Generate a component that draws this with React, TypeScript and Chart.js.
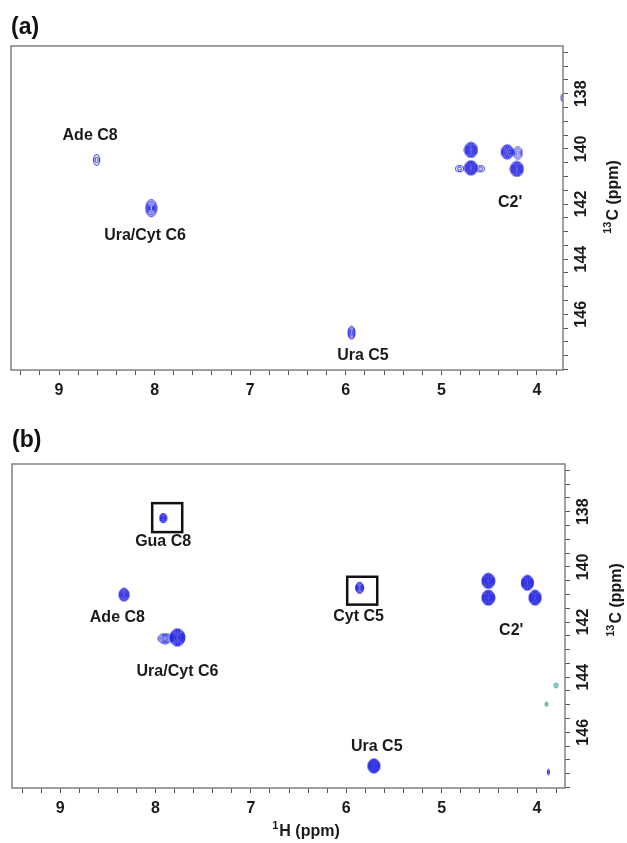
import React, { useEffect, useRef } from 'react';
import { Chart, registerables } from 'chart.js';

Chart.register(...registerables);

const FONT = '"Liberation Sans", Arial, Helvetica, sans-serif';
const BLUE = '#1c1ce0';
const TEAL = '#3aa39a';
const INK = '#1a1a1a';

// ---- axis tick labels ----
const hTickLabels = [9, 8, 7, 6, 5, 4];
const cTickLabels = [138, 140, 142, 144, 146];

// ---- panel (a) peaks: 1H ppm, 13C ppm, linewidths (ppm), contour levels ----
const peaksA_H = [8.607, 8.036, 5.94, 4.69, 4.69, 4.81, 4.59, 4.31, 4.2, 4.21, 3.735];
const peaksA_C = [140.4, 142.15, 146.67, 140.04, 140.69, 140.72, 140.72, 140.11, 140.15, 140.73, 138.15];
const peaksA_wH = [0.063, 0.115, 0.073, 0.136, 0.136, 0.084, 0.084, 0.126, 0.094, 0.136, 0.02];
const peaksA_wC = [0.4, 0.62, 0.47, 0.54, 0.51, 0.22, 0.22, 0.51, 0.44, 0.54, 0.25];
const peaksA_lev = [2, 5, 4, 8, 8, 2, 2, 7, 3, 8, 1];

const labelsA_text = ['Ade C8', 'Ura/Cyt C6', 'Ura C5', "C2'"];
const labelsA_H = [8.675, 8.1, 5.82, 4.28];
const labelsA_C = [139.53, 143.13, 147.49, 141.96];

// ---- panel (b) peaks ----
const peaksB_H = [7.92, 8.33, 7.77, 7.9, 5.86, 4.51, 4.51, 4.1, 4.02, 5.71, 3.88];
const peaksB_C = [138.23, 141.01, 142.56, 142.6, 140.76, 140.51, 141.12, 140.58, 141.12, 147.22, 147.44];
const peaksB_wH = [0.073, 0.105, 0.157, 0.147, 0.084, 0.136, 0.136, 0.126, 0.126, 0.126, 0.021];
const peaksB_wC = [0.33, 0.47, 0.62, 0.36, 0.4, 0.54, 0.54, 0.54, 0.54, 0.51, 0.22];
const peaksB_lev = [5, 7, 10, 4, 5, 10, 10, 10, 10, 10, 2];

const negB_H = [3.8, 3.9];
const negB_C = [144.3, 144.98];
const negB_wH = [0.042, 0.031];
const negB_wC = [0.18, 0.15];
const negB_lev = [2, 2];

const labelsB_text = ['Gua C8', 'Ade C8', 'Ura/Cyt C6', 'Cyt C5', "C2'", 'Ura C5'];
const labelsB_H = [7.92, 8.4, 7.77, 5.87, 4.27, 5.68];
const labelsB_C = [139.1, 141.84, 143.79, 141.81, 142.31, 146.53];

const boxesB_H1 = [8.035, 5.99];
const boxesB_H2 = [7.72, 5.675];
const boxesB_C1 = [137.69, 140.36];
const boxesB_C2 = [138.74, 141.37];

// ---- helpers ----
const glyphCache = new Map<string, HTMLCanvasElement>();
function makeGlyph(w: number, h: number, lev: number, color: string) {
  const key = `${w.toFixed(1)}|${h.toFixed(1)}|${lev}|${color}`;
  const hit = glyphCache.get(key);
  if (hit) return hit;
  const c = document.createElement('canvas');
  const W = Math.ceil(w) + 2;
  const H = Math.ceil(h) + 2;
  c.width = W;
  c.height = H;
  const g = c.getContext('2d')!;
  g.strokeStyle = color;
  g.lineWidth = 1;
  for (let k = lev; k >= 1; k--) {
    const f = k / lev;
    g.beginPath();
    g.ellipse(W / 2, H / 2, Math.max(0.5, (w / 2) * f), Math.max(0.6, (h / 2) * f), 0, 0, Math.PI * 2);
    g.stroke();
  }
  glyphCache.set(key, c);
  return c;
}

function buildPoints(H: number[], C: number[], wH: number[], wC: number[], lev: number[]) {
  return H.map((x, i) => ({ x, y: C[i], wH: wH[i], wC: wC[i], lev: lev[i] }));
}

function glyphStyle(color: string) {
  return (ctx: any) => {
    const raw = ctx.raw;
    if (!raw || !ctx.chart.scales.x) return 'circle';
    const xs = ctx.chart.scales.x;
    const ys = ctx.chart.scales.y;
    const w = Math.abs(xs.getPixelForValue(raw.x + raw.wH / 2) - xs.getPixelForValue(raw.x - raw.wH / 2));
    const h = Math.abs(ys.getPixelForValue(raw.y + raw.wC / 2) - ys.getPixelForValue(raw.y - raw.wC / 2));
    return makeGlyph(w, h, raw.lev, color);
  };
}

function tickLabel(list: number[]) {
  return (v: any) => {
    const n = Number(v);
    const m = list.find((t) => Math.abs(t - n) < 1e-6);
    return m === undefined ? '' : String(m);
  };
}

function drawSup(ctx: CanvasRenderingContext2D, sup: string, main: string, cx: number, cy: number) {
  ctx.font = `bold 11px ${FONT}`;
  const sw = ctx.measureText(sup).width;
  ctx.font = `bold 16px ${FONT}`;
  const mw = ctx.measureText(main).width;
  const start = cx - (sw + mw + 1) / 2;
  ctx.textAlign = 'left';
  ctx.textBaseline = 'alphabetic';
  ctx.fillStyle = INK;
  ctx.font = `bold 11px ${FONT}`;
  ctx.fillText(sup, start, cy - 1);
  ctx.font = `bold 16px ${FONT}`;
  ctx.fillText(main, start + sw + 1, cy + 6);
}

const annotPlugin = {
  id: 'annot',
  afterDatasetsDraw(chart: any, _args: any, opts: any) {
    const { ctx } = chart;
    const x = chart.scales.x;
    const y = chart.scales.y;
    ctx.save();
    ctx.font = `bold 16px ${FONT}`;
    ctx.fillStyle = INK;
    ctx.textAlign = 'center';
    ctx.textBaseline = 'middle';
    (opts.labels || []).forEach((l: any) => {
      ctx.fillText(l.text, x.getPixelForValue(l.h), y.getPixelForValue(l.c));
    });
    ctx.lineWidth = 2.5;
    ctx.strokeStyle = '#111';
    (opts.boxes || []).forEach((b: any) => {
      const x1 = x.getPixelForValue(b.h1);
      const x2 = x.getPixelForValue(b.h2);
      const y1 = y.getPixelForValue(b.c1);
      const y2 = y.getPixelForValue(b.c2);
      ctx.strokeRect(Math.min(x1, x2), Math.min(y1, y2), Math.abs(x2 - x1), Math.abs(y2 - y1));
    });
    ctx.restore();
  },
  afterDraw(chart: any, _args: any, opts: any) {
    const { ctx, chartArea: a } = chart;
    ctx.save();
    ctx.strokeStyle = '#808080';
    ctx.lineWidth = 1.5;
    ctx.strokeRect(a.left, a.top, a.right - a.left, a.bottom - a.top);
    ctx.save();
    ctx.translate(opts.yTitleX, opts.yTitleY);
    ctx.rotate(-Math.PI / 2);
    drawSup(ctx, '13', 'C (ppm)', 0, 0);
    ctx.restore();
    if (opts.xTitle) drawSup(ctx, '1', 'H (ppm)', opts.xTitleX, opts.xTitleY);
    ctx.restore();
  },
};

function makeConfig(p: any): any {
  const datasets: any[] = [
    {
      type: 'scatter',
      data: buildPoints(p.H, p.C, p.wH, p.wC, p.lev),
      pointStyle: glyphStyle(BLUE),
      pointRadius: 4,
      showLine: false,
    },
  ];
  if (p.negH) {
    datasets.push({
      type: 'scatter',
      data: buildPoints(p.negH, p.negC, p.negWH, p.negWC, p.negLev),
      pointStyle: glyphStyle(TEAL),
      pointRadius: 4,
      showLine: false,
    });
  }
  return {
    type: 'scatter',
    data: { datasets },
    plugins: [annotPlugin],
    options: {
      responsive: false,
      maintainAspectRatio: false,
      animation: false,
      events: [],
      layout: { padding: { left: p.left, right: 0, top: 0, bottom: 0 } },
      plugins: {
        legend: { display: false },
        tooltip: { enabled: false },
        title: {
          display: true,
          text: p.title,
          align: 'start',
          color: '#111',
          font: { family: FONT, size: 23, weight: 'bold' },
          padding: { top: p.titleTop, bottom: p.titleBottom },
        },
        annot: {
          labels: p.labels,
          boxes: p.boxes,
          yTitleX: p.yTitleX,
          yTitleY: p.yTitleY,
          xTitle: p.xTitle,
          xTitleX: p.xTitleX,
          xTitleY: p.xTitleY,
        },
      },
      scales: {
        x: {
          type: 'linear',
          position: 'bottom',
          reverse: true,
          min: p.xMin,
          max: p.xMax,
          grid: { drawOnChartArea: false, drawTicks: true, tickLength: 5, color: '#555', lineWidth: 1 },
          border: { display: false },
          ticks: {
            stepSize: 0.2,
            autoSkip: false,
            includeBounds: false,
            minRotation: 0,
            maxRotation: 0,
            padding: 6,
            color: INK,
            font: { family: FONT, size: 16, weight: 'bold' },
            callback: tickLabel(hTickLabels),
          },
          afterFit: (s: any) => {
            s.height = p.xAxisH;
          },
        },
        y: {
          type: 'linear',
          position: 'right',
          reverse: true,
          min: 136.27,
          max: 148.02,
          grid: { drawOnChartArea: false, drawTicks: true, tickLength: 5, color: '#555', lineWidth: 1 },
          border: { display: false },
          ticks: {
            stepSize: 0.5,
            autoSkip: false,
            includeBounds: false,
            minRotation: 90,
            maxRotation: 90,
            crossAlign: 'center',
            padding: 0,
            color: INK,
            font: { family: FONT, size: 16, weight: 'bold' },
            callback: tickLabel(cTickLabels),
          },
          afterFit: (s: any) => {
            s.width = p.yAxisW;
          },
        },
      },
    },
  };
}

const panelA = {
  title: '(a)',
  titleTop: 14,
  titleBottom: 4.4,
  left: 11,
  xMin: 3.727,
  xMax: 9.503,
  xAxisH: 50,
  yAxisW: 64,
  H: peaksA_H,
  C: peaksA_C,
  wH: peaksA_wH,
  wC: peaksA_wC,
  lev: peaksA_lev,
  labels: labelsA_text.map((text, i) => ({ text, h: labelsA_H[i], c: labelsA_C[i] })),
  boxes: [],
  yTitleX: 612,
  yTitleY: 197,
  xTitle: false,
};

const panelB = {
  title: '(b)',
  titleTop: 7,
  titleBottom: 9.4,
  left: 12,
  xMin: 3.706,
  xMax: 9.505,
  xAxisH: 55,
  yAxisW: 62,
  H: peaksB_H,
  C: peaksB_C,
  wH: peaksB_wH,
  wC: peaksB_wC,
  lev: peaksB_lev,
  negH: negB_H,
  negC: negB_C,
  negWH: negB_wH,
  negWC: negB_wC,
  negLev: negB_lev,
  labels: labelsB_text.map((text, i) => ({ text, h: labelsB_H[i], c: labelsB_C[i] })),
  boxes: boxesB_H1.map((h1, i) => ({ h1, h2: boxesB_H2[i], c1: boxesB_C1[i], c2: boxesB_C2[i] })),
  yTitleX: 615,
  yTitleY: 180,
  xTitle: true,
  xTitleX: 306,
  xTitleY: 410,
};

function Panel({ panel, height }: { panel: any; height: number }) {
  const ref = useRef<HTMLCanvasElement | null>(null);
  useEffect(() => {
    if (!ref.current) return;
    const chart = new Chart(ref.current, makeConfig(panel));
    return () => chart.destroy();
  }, [panel]);
  return <canvas ref={ref} width={627} height={height} style={{ display: 'block', width: 627, height }} />;
}

export default function App() {
  return (
    <div style={{ position: 'absolute', left: 0, top: 0, width: 627, height: 843, background: '#fff' }}>
      <Panel panel={panelA} height={420} />
      <Panel panel={panelB} height={423} />
    </div>
  );
}
